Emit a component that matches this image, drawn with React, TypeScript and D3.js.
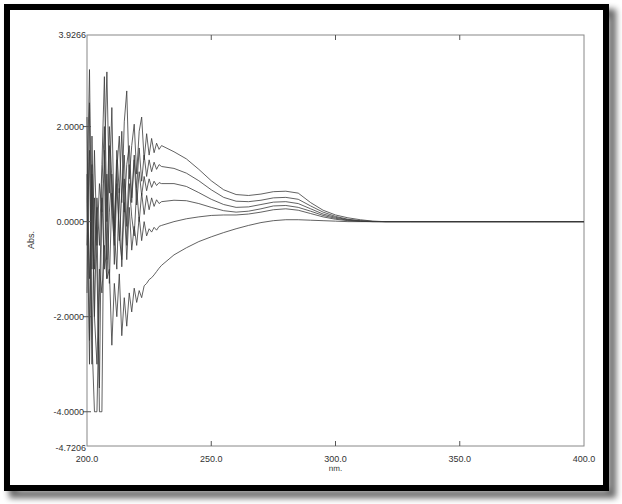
import React from "react";
import * as d3 from "d3";

// wavelength grids (nm)
const noiseNm = [200,201,202,203,204,205,206,207,208,209,210,211,212,213,214,215,216,217,218,219,220,221,222,223,224,225,226,227,228,229,230];
const smoothNm = [235,240,245,250,255,260,265,270,275,280,285,290,295,300,305,310,315,320,330,340,350,360,370,380,390,400];

// absorbance values, noisy region 200-230 nm
const c1Noise = [0.5,3.2,-1.0,1.5,-0.5,0.8,0.2,1.2,3.15,0.6,2.4,-0.2,1.1,1.8,0.4,2.1,2.75,0.9,1.6,2.05,1.0,1.9,2.2,1.3,1.85,1.4,1.75,1.45,1.65,1.52,1.6];
const c2Noise = [2.2,-2.5,1.8,-1.0,0.5,-0.5,1.2,3.05,0.0,2.0,0.9,-0.3,1.5,0.6,1.9,0.2,1.2,1.6,0.5,1.4,0.7,1.55,0.85,1.4,0.95,1.3,1.05,1.25,1.1,1.2,1.16];
const c3Noise = [-1.5,2.5,-3.0,0.5,-1.0,-3.5,0.8,2.0,-0.8,1.6,0.3,-0.5,1.3,-0.4,0.6,1.4,-0.1,1.2,0.4,1.3,0.35,1.05,0.55,0.95,0.65,0.9,0.72,0.85,0.76,0.82,0.8];
const c4Noise = [1.0,-1.2,1.2,-2.0,0.3,-4.0,-4.0,1.5,-1.2,0.2,1.0,-0.9,0.8,-0.3,-0.8,0.9,-0.5,0.8,0.1,-0.3,0.7,0.0,0.6,0.15,0.55,0.25,0.5,0.32,0.46,0.38,0.42];
const c5Noise = [-0.5,1.5,-2.5,-4.0,-4.0,-1.5,0.5,-1.0,1.0,-1.3,0.6,-0.2,-1.0,0.7,-0.95,0.4,-0.8,0.3,-0.6,-0.1,-0.5,0.1,-0.4,0.0,-0.3,-0.15,-0.22,-0.12,-0.18,-0.1,-0.08];
const c6Noise = [0.5,-3.0,1.0,-2.0,-3.0,-1.0,-1.5,-0.5,-1.2,-1.0,-2.6,-1.3,-2.0,-1.1,-2.4,-1.6,-2.2,-1.5,-1.9,-1.4,-1.7,-1.45,-1.6,-1.35,-1.3,-1.22,-1.18,-1.12,-1.05,-0.98,-0.92];

// absorbance values, smooth region 235-400 nm
const c1Smooth = [1.47,1.32,1.1,0.86,0.67,0.57,0.55,0.58,0.63,0.64,0.6,0.4,0.24,0.14,0.08,0.04,0.01,0,0,0,0,0,0,0,0,0];
const c2Smooth = [1.12,1.02,0.86,0.67,0.51,0.43,0.42,0.45,0.5,0.51,0.47,0.33,0.2,0.11,0.05,0.02,0.005,0,0,0,0,0,0,0,0,0];
const c3Smooth = [0.8,0.74,0.61,0.47,0.36,0.3,0.31,0.36,0.41,0.42,0.38,0.27,0.16,0.09,0.04,0.015,0.003,0,0,0,0,0,0,0,0,0];
const c4Smooth = [0.45,0.44,0.38,0.3,0.23,0.2,0.22,0.27,0.33,0.34,0.3,0.22,0.13,0.07,0.03,0.01,0,0,0,0,0,0,0,0,0,0];
const c5Smooth = [0.0,0.06,0.1,0.13,0.14,0.14,0.16,0.2,0.25,0.27,0.24,0.17,0.1,0.05,0.02,0.005,0,0,0,0,0,0,0,0,0,0];
const c6Smooth = [-0.7,-0.55,-0.42,-0.32,-0.23,-0.15,-0.08,-0.02,0.02,0.04,0.04,0.03,0.02,0.01,0,0,0,0,0,0,0,0,0,0,0,0];

const seriesNoise = [c1Noise, c2Noise, c3Noise, c4Noise, c5Noise, c6Noise];
const seriesSmooth = [c1Smooth, c2Smooth, c3Smooth, c4Smooth, c5Smooth, c6Smooth];

const yMin = -4.7206;
const yMax = 3.9266;
const yTicks = [2, 0, -2, -4];
const xTicks = [200, 250, 300, 350, 400];
const yLabelFmt = (v: number) => v.toFixed(4);
const xLabelFmt = (v: number) => v.toFixed(1);

export default function App() {
  const W = 622, H = 504;
  const left = 87, right = 584, top = 35, bottom = 446;
  const x = d3.scaleLinear().domain([200, 400]).range([left, right]);
  const y = d3.scaleLinear().domain([yMin, yMax]).range([bottom, top]);
  const line = d3.line<[number, number]>().x(d => x(d[0])).y(d => y(d[1]));
  const allNm = noiseNm.concat(smoothNm);
  const paths = seriesNoise.map((n, i) => {
    const vals = n.concat(seriesSmooth[i]);
    return line(allNm.map((nm, j) => [nm, vals[j]] as [number, number])) || "";
  });
  const font = "'Liberation Sans', Arial, sans-serif";
  return (
    <svg width={W} height={H} style={{ position: "absolute", left: 0, top: 0, background: "#fff" }}>
      <defs>
        <filter id="sh" x="-5%" y="-5%" width="115%" height="115%">
          <feGaussianBlur stdDeviation="3" />
        </filter>
      </defs>
      <rect x={0} y={0} width={W} height={H} fill="#fff" />
      <rect x={13} y={13} width={599} height={481} fill="none" stroke="#000" strokeWidth={8} opacity={0.6} filter="url(#sh)" />
      <rect x={7} y={7} width={599} height={481} fill="#fff" stroke="#000" strokeWidth={6} />
      {/* plot frame */}
      <rect x={left} y={top} width={right - left} height={bottom - top} fill="none" stroke="#888" strokeWidth={1} />
      {/* data */}
      <g fill="none" stroke="#3a3a3a" strokeWidth={0.8} strokeLinejoin="round">
        {paths.map((d, i) => <path key={i} d={d} />)}
      </g>
      {/* y ticks */}
      {yTicks.map(t => (
        <g key={t}>
          <line x1={left - 4} x2={left + 4} y1={y(t)} y2={y(t)} stroke="#555" />
          <text x={left - 3} y={y(t)} dy="0.35em" textAnchor="end" fontSize={9} fill="#333" fontFamily={font}>{yLabelFmt(t)}</text>
        </g>
      ))}
      <text x={left - 1} y={y(yMax)} dy="0.35em" textAnchor="end" fontSize={9} fill="#333" fontFamily={font}>{yLabelFmt(yMax)}</text>
      <text x={left - 1} y={y(yMin) + 2} dy="0.35em" textAnchor="end" fontSize={9} fill="#333" fontFamily={font}>{yLabelFmt(yMin)}</text>
      {/* x ticks */}
      {xTicks.map(t => (
        <g key={t}>
          {t !== 200 && t !== 400 && (
            <>
              <line x1={x(t)} x2={x(t)} y1={bottom} y2={bottom - 5} stroke="#555" />
              <line x1={x(t)} x2={x(t)} y1={top} y2={top + 5} stroke="#555" />
            </>
          )}
          <text x={x(t)} y={bottom + 13} dy="0.35em" textAnchor="middle" fontSize={9} fill="#333" fontFamily={font}>{xLabelFmt(t)}</text>
        </g>
      ))}
      <text x={x(300)} y={bottom + 22} dy="0.35em" textAnchor="middle" fontSize={8} fill="#333" fontFamily={font} style={{ textRendering: "geometricPrecision" }}>nm.</text>
      <text transform={`translate(31,240) rotate(-90)`} textAnchor="middle" dy="0.35em" fontSize={9} fill="#333" fontFamily={font}>Abs.</text>
    </svg>
  );
}
